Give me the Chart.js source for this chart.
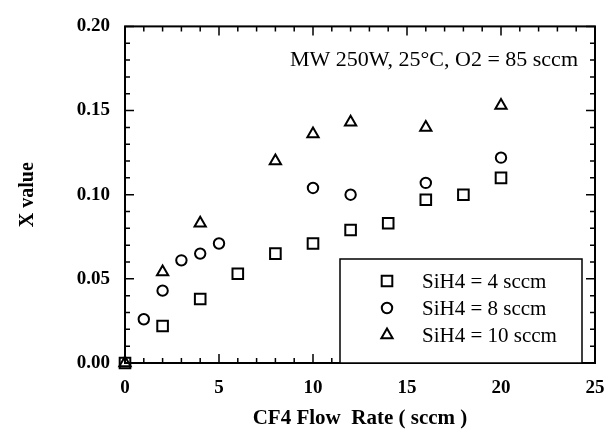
<!DOCTYPE html>
<html>
<head>
<meta charset="utf-8">
<script src="https://cdn.jsdelivr.net/npm/chart.js@4.4.0/dist/chart.umd.min.js"></script>
<style>
  html, body { margin: 0; padding: 0; background: #fff; }
</style>
</head>
<body>
<canvas id="xChart" width="606" height="431"></canvas>
<script>
// CF4 flow rate (sccm) and X value for each SiH4 flow
const cf4Sih4_4 = [0, 2, 4, 6, 8, 10, 12, 14, 16, 18, 20];
const xSih4_4 = [0, 0.022, 0.038, 0.053, 0.065, 0.071, 0.079, 0.083, 0.097, 0.100, 0.110];

const cf4Sih4_8 = [1, 2, 3, 4, 5, 10, 12, 16, 20];
const xSih4_8 = [0.026, 0.043, 0.061, 0.065, 0.071, 0.104, 0.100, 0.107, 0.122];

const cf4Sih4_10 = [0, 2, 4, 8, 10, 12, 16, 20];
const xSih4_10 = [0, 0.054, 0.083, 0.120, 0.136, 0.143, 0.140, 0.153];

const seriesLabels = ['SiH4 = 4 sccm', 'SiH4 = 8 sccm', 'SiH4 = 10 sccm'];
const xTicks = [0, 5, 10, 15, 20, 25];
const yTicks = [0, 0.05, 0.10, 0.15, 0.20];
const noteText = 'MW 250W, 25\u00B0C, O2 = 85 sccm';

const serif = '"Liberation Serif", "DejaVu Serif", serif';

function pairs(xs, ys) {
    return xs.map((v, i) => ({ x: v, y: ys[i] }));
}

const styles = [
    { pointStyle: 'rect', pointRadius: 7.5 },
    { pointStyle: 'circle', pointRadius: 5.2 },
    { pointStyle: 'triangle', pointRadius: 6.5 }
];

// frame with inward ticks, annotation and boxed legend
const framePlugin = {
    id: 'frame',
    afterDatasetsDraw(chart) {
        const { ctx, chartArea: a, scales: { x, y } } = chart;
        ctx.save();
        ctx.strokeStyle = '#000';
        ctx.lineWidth = 2;
        ctx.strokeRect(a.left, a.top, a.right - a.left, a.bottom - a.top);

        ctx.lineWidth = 1.5;
        ctx.beginPath();
        for (let v = 0; v <= 25; v++) {
            const px = x.getPixelForValue(v);
            const len = v % 5 === 0 ? 9 : 5;
            ctx.moveTo(px, a.bottom); ctx.lineTo(px, a.bottom - len);
            ctx.moveTo(px, a.top); ctx.lineTo(px, a.top + len);
        }
        for (let i = 0; i <= 20; i++) {
            const py = y.getPixelForValue(i / 100);
            const len = i % 5 === 0 ? 9 : 5;
            ctx.moveTo(a.left, py); ctx.lineTo(a.left + len, py);
            ctx.moveTo(a.right, py); ctx.lineTo(a.right - len, py);
        }
        ctx.stroke();

        ctx.fillStyle = '#000';
        ctx.font = '22px ' + serif;
        ctx.textAlign = 'right';
        ctx.textBaseline = 'alphabetic';
        ctx.fillText(noteText, a.right - 17, a.top + 40);

        // legend box
        const bx = a.right - 255, by = a.bottom - 104;
        ctx.fillStyle = '#fff';
        ctx.fillRect(bx, by, 242, 104);
        ctx.lineWidth = 1.5;
        ctx.strokeRect(bx, by, 242, 104);
        ctx.font = '21px ' + serif;
        ctx.textAlign = 'left';
        ctx.textBaseline = 'middle';
        chart.data.datasets.forEach((ds, i) => {
            const ry = by + 22 + i * 27;
            ctx.strokeStyle = '#000';
            ctx.fillStyle = 'rgba(0,0,0,0)';
            ctx.lineWidth = 2;
            Chart.helpers.drawPoint(ctx, {
                pointStyle: ds.pointStyle,
                radius: ds.pointRadius,
                rotation: 0,
                borderWidth: 2
            }, bx + 47, ry);
            ctx.fillStyle = '#000';
            ctx.fillText(ds.label, bx + 82, ry + 1);
        });
        ctx.restore();
    }
};

const datasets = [
    pairs(cf4Sih4_4, xSih4_4),
    pairs(cf4Sih4_8, xSih4_8),
    pairs(cf4Sih4_10, xSih4_10)
].map((d, i) => ({
    label: seriesLabels[i],
    data: d,
    pointStyle: styles[i].pointStyle,
    pointRadius: styles[i].pointRadius,
    pointBorderWidth: 2,
    pointBorderColor: '#000',
    pointBackgroundColor: 'rgba(0,0,0,0)',
    showLine: false,
    clip: false
}));

const ctx = document.getElementById('xChart').getContext('2d');
const chart = new Chart(ctx, {
    type: 'scatter',
    data: { datasets },
    options: {
        responsive: false,
        animation: false,
        layout: { padding: { top: 21, right: 11, left: 0, bottom: 0 } },
        plugins: {
            legend: { display: false },
            tooltip: { enabled: false }
        },
        scales: {
            x: {
                type: 'linear',
                min: 0,
                max: 25,
                afterBuildTicks: s => { s.ticks = xTicks.map(v => ({ value: v })); },
                afterFit: s => { s.height = 68; s.paddingLeft = 0; s.paddingRight = 0; },
                grid: { display: false, drawTicks: false },
                border: { display: false },
                ticks: {
                    color: '#000',
                    padding: 14,
                    maxRotation: 0,
                    font: { family: serif, size: 19, weight: 'bold' }
                },
                title: {
                    display: true,
                    text: 'CF4 Flow  Rate ( sccm )',
                    color: '#000',
                    padding: { top: 0, bottom: 0 },
                    font: { family: serif, size: 21, weight: 'bold' }
                }
            },
            y: {
                type: 'linear',
                min: 0,
                max: 0.2,
                afterBuildTicks: s => { s.ticks = yTicks.map(v => ({ value: v })); },
                afterFit: s => { s.width = 125; },
                grid: { display: false, drawTicks: false },
                border: { display: false },
                ticks: {
                    color: '#000',
                    padding: 15,
                    font: { family: serif, size: 19, weight: 'bold' },
                    callback: v => v.toFixed(2)
                },
                title: {
                    display: true,
                    text: 'X value',
                    color: '#000',
                    padding: { top: 16, bottom: 0 },
                    font: { family: serif, size: 20, weight: 'bold' }
                }
            }
        }
    },
    plugins: [framePlugin]
});
</script>
</body>
</html>
